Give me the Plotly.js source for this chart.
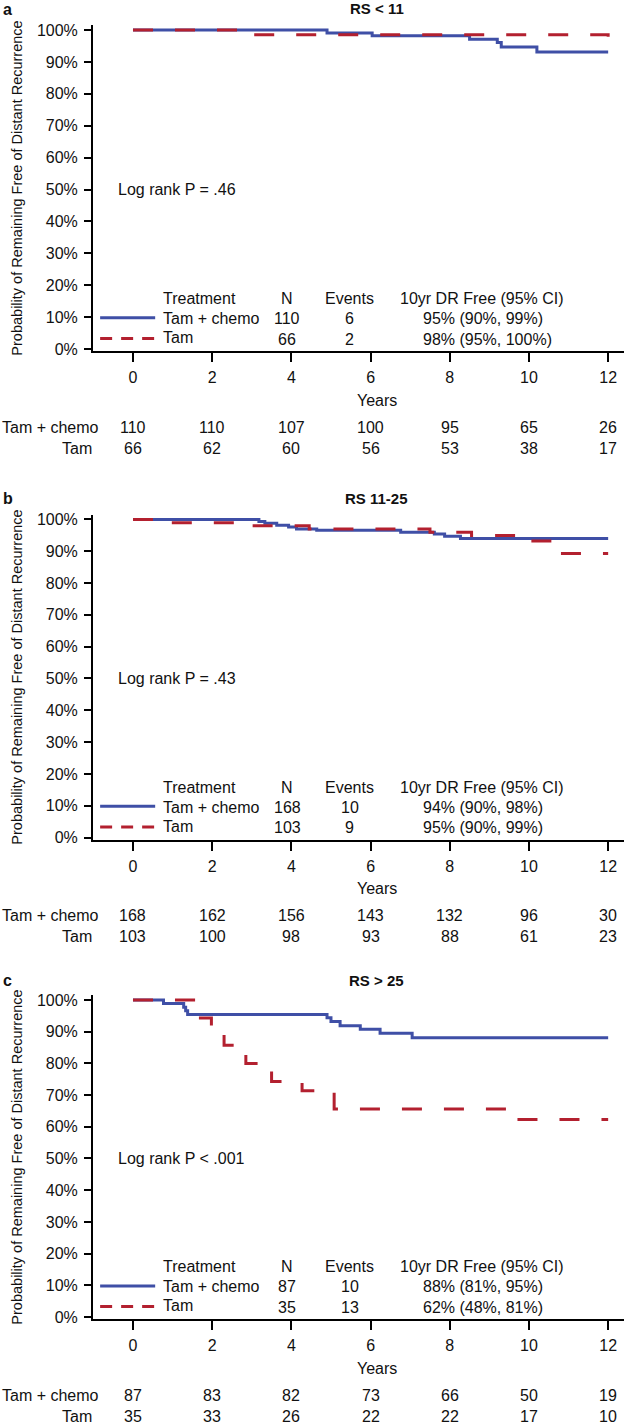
<!DOCTYPE html>
<html>
<head>
<meta charset="utf-8">
<script src="https://cdn.plot.ly/plotly-3.0.1.min.js"></script>
<style>
  html, body { margin: 0; padding: 0; background: #fff; }
  #chart { width: 626px; height: 1424px; }
</style>
</head>
<body>
<div id="chart"></div>
<script>
const years = [0, 2, 4, 6, 8, 10, 12];
const groups = ['Tam + chemo', 'Tam'];

// a: RS < 11
const aChemoT = [0, 4.9, 6.04, 8.5, 9.2, 9.3, 10.2, 12];
const aChemoS = [100, 99.1, 98.2, 97.1, 96.1, 94.7, 93.1, 93.1];
const aTamT = [0, 2.85, 12];
const aTamS = [100, 98.5, 97.0];
const aN = [110, 66];
const aEvents = [6, 2];
const aDrFree = ['95% (90%, 99%)', '98% (95%, 100%)'];
const aRiskChemo = [110, 110, 107, 100, 95, 65, 26];
const aRiskTam = [66, 62, 60, 56, 53, 38, 17];

// b: RS 11-25
const bChemoT = [0, 3.18, 3.33, 3.63, 3.93, 4.13, 4.64, 6.76, 7.61, 7.87, 8.27, 12];
const bChemoS = [100, 99.4, 98.8, 98.2, 97.6, 97.0, 96.6, 96.0, 95.4, 94.7, 94.0, 94.0];
const bTamT = [0, 0.8, 2.8, 4.45, 7.5, 8.55, 10.05, 10.7, 12];
const bTamS = [100, 99.0, 98.0, 97.0, 96.0, 95.0, 93.2, 89.3, 89.3];
const bN = [168, 103];
const bEvents = [10, 9];
const bDrFree = ['94% (90%, 98%)', '95% (90%, 99%)'];
const bRiskChemo = [168, 162, 156, 143, 132, 96, 30];
const bRiskTam = [103, 100, 98, 93, 88, 61, 23];

// c: RS > 25
const cChemoT = [0, 0.77, 1.28, 1.33, 1.38, 4.9, 5.0, 5.23, 5.74, 6.24, 7.05, 12];
const cChemoS = [100, 98.9, 97.7, 96.6, 95.4, 94.4, 93.2, 91.9, 90.8, 89.5, 88.1, 88.1];
const cTamT = [0, 1.53, 1.98, 2.3, 2.85, 3.5, 4.27, 5.08, 9.69, 12];
const cTamS = [100, 94.3, 91.4, 85.7, 80.0, 74.3, 71.4, 65.6, 62.3, 62.3];
const cN = [87, 35];
const cEvents = [10, 13];
const cDrFree = ['88% (81%, 95%)', '62% (48%, 81%)'];
const cRiskChemo = [87, 83, 82, 73, 66, 50, 19];
const cRiskTam = [35, 33, 26, 22, 22, 17, 10];

const W = 626, H = 1424;
const FONT = '"Liberation Sans", Arial, Helvetica, sans-serif';
const INK = '#111111';
const BLUE = '#3f4fa6';
const RED = '#b3202f';
const X_RANGE = [-1.01, 12.4];
const Y_RANGE = [-0.63, 101.57];
const FS = 16;

// pixel positions (from top) of each panel's axes
const panels = [
  { letter: 'a', title: 'RS < 11', p: 'Log rank P = .46', top: 25, bottom: 351, titleY: 9,
    chemo: [aChemoT, aChemoS], tam: [aTamT, aTamS], n: aN, ev: aEvents, dr: aDrFree, risk: [aRiskChemo, aRiskTam] },
  { letter: 'b', title: 'RS 11-25', p: 'Log rank P = .43', top: 514.5, bottom: 839.5, titleY: 498,
    chemo: [bChemoT, bChemoS], tam: [bTamT, bTamS], n: bN, ev: bEvents, dr: bDrFree, risk: [bRiskChemo, bRiskTam] },
  { letter: 'c', title: 'RS > 25', p: 'Log rank P < .001', top: 995, bottom: 1319, titleY: 980,
    chemo: [cChemoT, cChemoS], tam: [cTamT, cTamS], n: cN, ev: cEvents, dr: cDrFree, risk: [cRiskChemo, cRiskTam] }
];

const py = (v) => 1 - v / H;
const font = (size, extra) => Object.assign({ family: FONT, size: size, color: INK }, extra || {});

const traces = [];
const annotations = [];
const shapes = [];
const layout = {
  width: W,
  height: H,
  margin: { t: 0, l: 0, r: 0, b: 0 },
  paper_bgcolor: '#ffffff',
  plot_bgcolor: '#ffffff',
  showlegend: false,
  font: font(FS)
};

panels.forEach((pn, i) => {
  const sfx = i === 0 ? '' : String(i + 1);
  const xa = 'x' + sfx, ya = 'y' + sfx;

  traces.push({
    x: pn.chemo[0], y: pn.chemo[1], xaxis: xa, yaxis: ya,
    mode: 'lines', line: { shape: 'hv', color: BLUE, width: 3 }, hoverinfo: 'skip'
  });
  traces.push({
    x: pn.tam[0], y: pn.tam[1], xaxis: xa, yaxis: ya,
    mode: 'lines', line: { shape: 'hv', color: RED, width: 3, dash: '20px,22px' }, hoverinfo: 'skip'
  });

  layout['xaxis' + sfx] = {
    domain: [93 / W, 624 / W], range: X_RANGE, anchor: ya,
    showline: true, linecolor: '#000', linewidth: 2,
    ticks: 'outside', ticklen: 9, tickwidth: 2, tickcolor: '#000',
    tickvals: years, tickfont: font(FS), ticklabelstandoff: 2,
    showgrid: false, zeroline: false, fixedrange: true
  };
  layout['yaxis' + sfx] = {
    domain: [py(pn.bottom), py(pn.top)], range: Y_RANGE, anchor: xa,
    showline: true, linecolor: '#000', linewidth: 2,
    ticks: 'outside', ticklen: 7, tickwidth: 2, tickcolor: '#000',
    tick0: 0, dtick: 10, ticksuffix: '%', tickfont: font(FS), ticklabelstandoff: 3,
    showgrid: false, zeroline: false, fixedrange: true,
    title: { text: 'Probability of Remaining Free of Distant Recurrence', font: font(14.5), standoff: 11 }
  };

  // panel letter and title
  annotations.push({ xref: 'paper', yref: 'paper', x: 2 / W, y: py(pn.titleY - 9), xanchor: 'left', yanchor: 'top',
    text: pn.letter, showarrow: false, borderpad: 0, font: font(16, { weight: 'bold' }) });
  annotations.push({ xref: xa, yref: 'paper', x: 6.15, y: py(pn.titleY), xanchor: 'center', yanchor: 'middle',
    text: pn.title, showarrow: false, font: font(15, { weight: 'bold' }) });

  // log rank
  annotations.push({ xref: xa, yref: ya, x: -0.42, y: 50, xanchor: 'left', yanchor: 'middle',
    text: pn.p, showarrow: false, font: font(FS) });

  // in-plot legend table
  const hdrY = 15.8, rowY = [9.5, 3.0];
  annotations.push({ xref: xa, yref: ya, x: 0.71, y: hdrY, xanchor: 'left', yanchor: 'middle', text: 'Treatment', showarrow: false, font: font(FS) });
  annotations.push({ xref: xa, yref: ya, x: 3.9, y: hdrY, xanchor: 'center', yanchor: 'middle', text: 'N', showarrow: false, font: font(FS) });
  annotations.push({ xref: xa, yref: ya, x: 5.48, y: hdrY, xanchor: 'center', yanchor: 'middle', text: 'Events', showarrow: false, font: font(FS) });
  annotations.push({ xref: xa, yref: ya, x: 6.7, y: hdrY, xanchor: 'left', yanchor: 'middle', text: '10yr DR Free (95% CI)', showarrow: false, font: font(FS) });
  groups.forEach((g, k) => {
    annotations.push({ xref: xa, yref: ya, x: 0.71, y: rowY[k] + (k === 1 ? 0.6 : 0), xanchor: 'left', yanchor: 'middle', text: g, showarrow: false, font: font(FS) });
    annotations.push({ xref: xa, yref: ya, x: 3.9, y: rowY[k], xanchor: 'center', yanchor: 'middle', text: String(pn.n[k]), showarrow: false, font: font(FS) });
    annotations.push({ xref: xa, yref: ya, x: 5.48, y: rowY[k], xanchor: 'center', yanchor: 'middle', text: String(pn.ev[k]), showarrow: false, font: font(FS) });
    annotations.push({ xref: xa, yref: ya, x: 7.28, y: rowY[k], xanchor: 'left', yanchor: 'middle', text: pn.dr[k], showarrow: false, font: font(FS) });
  });
  shapes.push({ type: 'line', xref: xa, yref: ya, x0: -0.83, x1: 0.56, y0: 9.8, y1: 9.8, line: { color: BLUE, width: 3 } });
  shapes.push({ type: 'line', xref: xa, yref: ya, x0: -0.83, x1: 0.56, y0: 3.3, y1: 3.3, line: { color: RED, width: 3, dash: '12px,9px' } });

  // x-axis title
  annotations.push({ xref: xa, yref: 'paper', x: 6.15, y: py(pn.bottom + 49), xanchor: 'center', yanchor: 'middle',
    text: 'Years', showarrow: false, font: font(FS) });

  // numbers at risk
  const rowLabelRight = [101, 94];
  groups.forEach((g, k) => {
    const yy = py(pn.bottom + (k === 0 ? 76 : 97));
    annotations.push({ xref: 'paper', yref: 'paper', x: rowLabelRight[k] / W, y: yy, xanchor: 'right', yanchor: 'middle',
      text: g, showarrow: false, font: font(FS) });
    pn.risk[k].forEach((v, j) => {
      annotations.push({ xref: xa, yref: 'paper', x: years[j], y: yy, xanchor: 'center', yanchor: 'middle',
        text: String(v), showarrow: false, font: font(FS) });
    });
  });
});

layout.annotations = annotations;
layout.shapes = shapes;

Plotly.newPlot('chart', traces, layout, { displayModeBar: false, staticPlot: true });
</script>
</body>
</html>
